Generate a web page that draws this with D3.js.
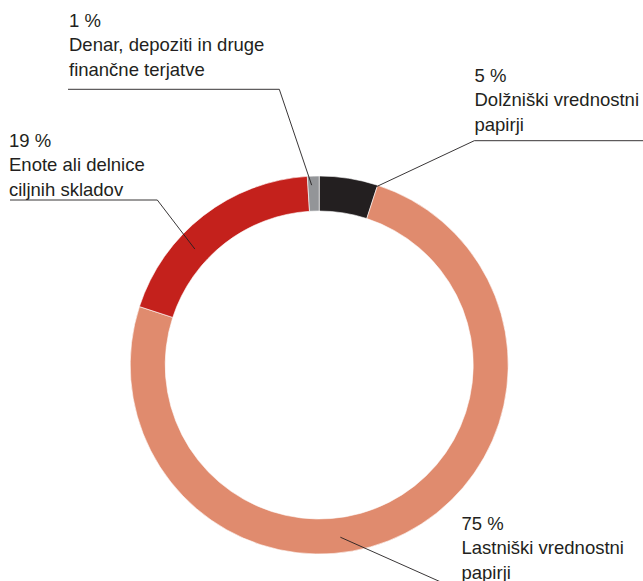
<!DOCTYPE html>
<html>
<head>
<meta charset="utf-8">
<script src="https://cdn.jsdelivr.net/npm/d3@7/dist/d3.min.js"></script>
<style>
  html, body { margin: 0; padding: 0; background: #fff; }
  svg { display: block; }
  text { font-family: "Liberation Sans", Arial, Helvetica, sans-serif; fill: #231f20; }
</style>
</head>
<body>
<svg id="chart" width="643" height="581"></svg>
<script>
// ---- data ----
const categories = [
  "Dolžniški vrednostni papirji",
  "Lastniški vrednostni papirji",
  "Enote ali delnice ciljnih skladov",
  "Denar, depoziti in druge finančne terjatve"
];
const values = [5, 75, 19, 1];
const percentLabels = ["5 %", "75 %", "19 %", "1 %"];
const labelLines = [
  ["Dolžniški vrednostni", "papirji"],
  ["Lastniški vrednostni", "papirji"],
  ["Enote ali delnice", "ciljnih skladov"],
  ["Denar, depoziti in druge", "finančne terjatve"]
];

// ---- layout / style ----
const colors = ["#231f20", "#e08b6e", "#c4211c", "#939598"];
const cx = 319.2, cy = 365, rOuter = 189, rInner = 154;
const fontSize = 18.5, lineH = 24.3;
const labelLayout = [
  { x: 474.5, y: 82,  anchorDeg: 17.7,  anchorR: 187,  elbow: [474.3, 140.7], hEnd: 645 },
  { x: 461.5, y: 530, anchorDeg: 173,   anchorR: 173.5, elbow: [470, 595],   hEnd: 645 },
  { x: 9,     y: 147, anchorDeg: 313,   anchorR: 170,  elbow: [157.3, 200],  hEnd: 10 },
  { x: 69,    y: 27,  anchorDeg: 357.6, anchorR: 180,  elbow: [279.3, 89.3], hEnd: 68 }
];

const svg = d3.select("#chart");
const g = svg.append("g").attr("transform", `translate(${cx},${cy})`);

const pie = d3.pie().sort(null).value(d => d);
const arc = d3.arc().innerRadius(rInner).outerRadius(rOuter);
const color = d3.scaleOrdinal().domain(categories).range(colors);

const arcs = pie(values);
g.selectAll("path.slice")
  .data(arcs)
  .enter().append("path")
  .attr("class", "slice")
  .attr("d", arc)
  .attr("fill", (d, i) => color(categories[i]))
  .attr("stroke", "#fff")
  .attr("stroke-width", 0.6);

// leader lines
const toRad = Math.PI / 180;
labelLayout.forEach((L, i) => {
  const a = L.anchorDeg * toRad;
  const ax = cx + L.anchorR * Math.sin(a);
  const ay = cy - L.anchorR * Math.cos(a);
  const pts = [[ax, ay], L.elbow, [L.hEnd, L.elbow[1]]];
  svg.append("path")
    .attr("d", d3.line()(pts))
    .attr("fill", "none")
    .attr("stroke", "#231f20")
    .attr("stroke-width", 0.9);
});

// labels
labelLayout.forEach((L, i) => {
  const t = svg.append("text")
    .attr("x", L.x).attr("y", L.y)
    .attr("font-size", fontSize);
  const lines = [percentLabels[i]].concat(labelLines[i]);
  lines.forEach((s, k) => {
    t.append("tspan").attr("x", L.x).attr("y", L.y + k * lineH).text(s);
  });
});
</script>
</body>
</html>
